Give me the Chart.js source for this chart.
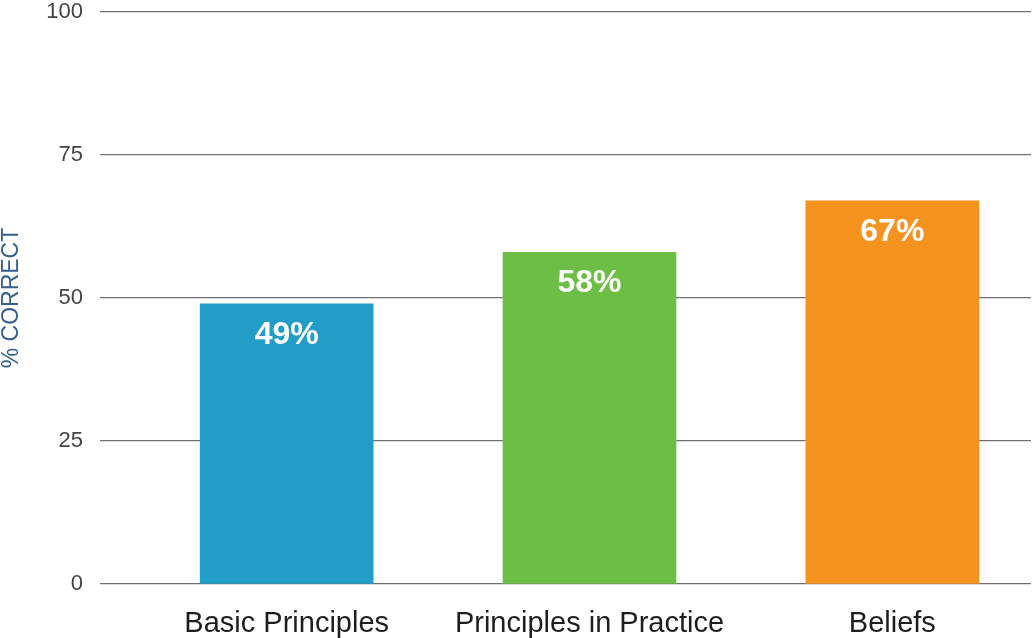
<!DOCTYPE html>
<html>
<head>
<meta charset="utf-8">
<script src="https://cdn.jsdelivr.net/npm/chart.js@4/dist/chart.umd.min.js"></script>
<style>
  html, body { margin: 0; padding: 0; background: #fff; overflow: hidden; }
  #c { display: block; }
</style>
</head>
<body>
<canvas id="c" width="1034" height="638"></canvas>
<script>
const categories = ["Basic Principles", "Principles in Practice", "Beliefs"];
const values = [49, 58, 67];
const valueLabels = ["49%", "58%", "67%"];
const barColors = ["#229DC8", "#6CBE45", "#F6921E"];
const yTicks = [0, 25, 50, 75, 100];

const FONT = "'Liberation Sans', Arial, Helvetica, sans-serif";

const valueLabelPlugin = {
  id: 'valueLabels',
  afterDatasetsDraw(chart) {
    const ctx = chart.ctx;
    const meta = chart.getDatasetMeta(0);
    ctx.save();
    ctx.fillStyle = '#ffffff';
    ctx.font = "bold 32px " + FONT;
    ctx.textAlign = 'center';
    ctx.textBaseline = 'middle';
    meta.data.forEach((bar, i) => {
      ctx.fillText(valueLabels[i], bar.x, bar.y + 31);
    });
    ctx.restore();
  }
};

new Chart(document.getElementById('c'), {
  type: 'bar',
  data: {
    datasets: [{
      data: categories.map((c, i) => ({ x: i, y: values[i] })),
      backgroundColor: barColors,
      borderWidth: 0,
      barThickness: 173
    }]
  },
  options: {
    responsive: false,
    devicePixelRatio: 1,
    animation: false,
    layout: { padding: { top: 12, right: 3, left: 0, bottom: 0 } },
    plugins: {
      legend: { display: false },
      tooltip: { enabled: false }
    },
    scales: {
      x: {
        type: 'linear',
        offset: false,
        min: -0.6165,
        max: 2.458,
        grid: { display: false, offset: false },
        border: { display: false },
        afterBuildTicks(scale) {
          scale.ticks = categories.map((c, i) => ({ value: i }));
        },
        afterFit(scale) {
          scale.height = 54;
          scale.paddingLeft = 0;
          scale.paddingRight = 0;
        },
        ticks: {
          autoSkip: false,
          maxRotation: 0,
          padding: 15,
          color: '#1e1e1e',
          font: { family: FONT, size: 29 },
          callback: (v) => categories[v]
        }
      },
      y: {
        min: 0,
        max: 100,
        afterBuildTicks(scale) {
          scale.ticks = yTicks.map(v => ({ value: v }));
        },
        afterFit(scale) {
          scale.width = 100;
          scale.paddingTop = 0;
          scale.paddingBottom = 0;
        },
        grid: {
          color: '#707070',
          lineWidth: 1.3,
          drawTicks: false
        },
        border: { display: false },
        ticks: {
          padding: 17,
          color: '#444',
          font: { family: FONT, size: 22 }
        },
        title: {
          display: true,
          text: '% CORRECT',
          color: '#34608c',
          padding: 0,
          font: { family: FONT, size: 23, lineHeight: 1 }
        }
      }
    }
  },
  plugins: [valueLabelPlugin]
});
</script>
</body>
</html>
